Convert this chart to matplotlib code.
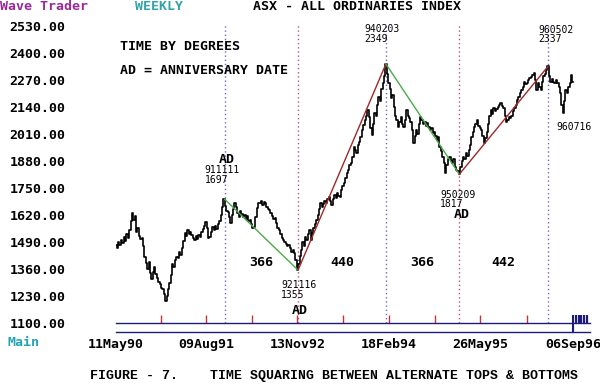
import pandas as pd
import matplotlib
matplotlib.use('Agg')
import matplotlib.pyplot as plt
import matplotlib.dates as mdates
import matplotlib.transforms as mtransforms

# weekly closes of the ASX All Ordinaries, starting 11 May 1990
start = '1990-05-11'
closes = [
    1478, 1460, 1492, 1475, 1502, 1488, 1515, 1497, 1530, 1512,
    1548, 1590, 1631, 1598, 1615, 1540, 1560, 1520, 1505, 1512,
    1470, 1420, 1390, 1360, 1395, 1340, 1310, 1345, 1372, 1335,
    1318, 1300, 1290, 1270, 1262, 1240, 1205, 1232, 1265, 1292,
    1330, 1385, 1370, 1405, 1420, 1412, 1440, 1430, 1462, 1495,
    1535, 1520, 1548, 1530, 1540, 1525, 1510, 1498, 1518, 1505,
    1525, 1515, 1540, 1555, 1570, 1585, 1560, 1512, 1516, 1540,
    1565, 1548, 1570, 1552, 1575, 1590, 1620, 1660, 1697, 1665,
    1640, 1636, 1610, 1582, 1620, 1650, 1678, 1660, 1630, 1612,
    1640, 1625, 1610, 1620, 1600, 1615, 1590, 1596, 1575, 1560,
    1564, 1610, 1655, 1680, 1678, 1690, 1670, 1685, 1678, 1660,
    1650, 1645, 1630, 1618, 1600, 1606, 1580, 1560, 1548, 1530,
    1512, 1500, 1490, 1480, 1470, 1475, 1461, 1440, 1450, 1437,
    1405, 1355, 1385, 1425, 1451, 1490, 1470, 1515, 1500, 1530,
    1548, 1500, 1535, 1560, 1575, 1596, 1620, 1650, 1678, 1660,
    1672, 1690, 1678, 1700, 1709, 1690, 1669, 1700, 1715, 1705,
    1726, 1712, 1709, 1740, 1760, 1775, 1800, 1823, 1840, 1860,
    1871, 1900, 1950, 1935, 1919, 1960, 1975, 1998, 2030, 2055,
    2079, 2100, 2127, 2095, 2040, 2006, 2060, 2112, 2100, 2150,
    2191, 2170, 2230, 2257, 2290, 2349, 2300, 2257, 2230, 2185,
    2200, 2143, 2100, 2080, 2046, 2070, 2095, 2060, 2046, 2080,
    2127, 2100, 2090, 2071, 2030, 1968, 2000, 2030, 2010, 2060,
    2095, 2080, 2060, 2071, 2050, 2064, 2045, 2030, 2040, 2015,
    2022, 2000, 1982, 1995, 1950, 1930, 1900, 1871, 1823, 1860,
    1890, 1902, 1880, 1871, 1890, 1853, 1840, 1835, 1817, 1850,
    1880, 1902, 1890, 1919, 1905, 1934, 1960, 1998, 2020, 2046,
    2060, 2079, 2050, 2040, 2030, 2000, 1968, 1990, 2022, 2060,
    2100, 2127, 2110, 2137, 2120, 2130, 2143, 2150, 2161, 2145,
    2137, 2100, 2071, 2080, 2095, 2090, 2100, 2120, 2137, 2150,
    2175, 2190, 2210, 2224, 2240, 2264, 2250, 2257, 2270, 2280,
    2288, 2295, 2306, 2270, 2224, 2257, 2240, 2224, 2260, 2290,
    2300, 2320, 2337, 2290, 2264, 2275, 2264, 2258, 2270, 2257,
    2240, 2209, 2150, 2112, 2170, 2224, 2210, 2240, 2257, 2296,
    2264,
]

pivot_dates = ['1991-11-11', '1992-11-16', '1994-02-03', '1995-02-09', '1996-05-02']
pivot_values = [1697, 1355, 2349, 1817, 2337]
pivot_top = [True, False, True, False, True]
pivot_ad = [True, True, False, True, False]
span_labels = ['366', '440', '366', '442']
last_low_date = '1996-07-16'
last_low_value = 2112

date_ticks = ['1990-05-11', '1991-08-09', '1992-11-13', '1994-02-18', '1995-05-26', '1996-09-06']
y_ticks = [1100, 1230, 1360, 1490, 1620, 1750, 1880, 2010, 2140, 2270, 2400, 2530]

MONO = 'DejaVu Sans Mono'
NAVY = '#1c1c7c'
W, H = 600, 384

dates = pd.date_range(start, periods=len(closes), freq='7D')
piv = pd.to_datetime(pivot_dates)
ticks = pd.to_datetime(date_ticks)

fig = plt.figure(figsize=(W / 100, H / 100), dpi=100)
ax = fig.add_axes([116 / W, 1 - 323 / H, (590 - 116) / W, (323 - 15) / H])
ax.set_xlim(pd.Timestamp(start), pd.Timestamp(start) + pd.Timedelta(weeks=342.2))
ax.set_ylim(1100, 2585)

# dotted time lines through the pivots
for i, d in enumerate(piv):
    col = '#6a6ac8' if i % 2 == 0 else '#c0508a'
    ax.plot([d, d], [1100, 2540], color=col, lw=1, ls=(0, (1, 2)))

# price, drawn as weekly steps so it reads like a bar chart
ax.plot(dates, closes, color='black', lw=1.2, drawstyle='steps-mid')

# swing lines between alternate tops and bottoms
for i in range(len(piv) - 1):
    col = '#4caa4c' if pivot_top[i] else '#a02828'
    ax.plot([piv[i], piv[i + 1]], [pivot_values[i], pivot_values[i + 1]], color=col, lw=1)

# pivot labels
offsets = [(-20, 24), (-17, -20), (-22, 30), (-19, -25), (-10, 32)]
for d, v, top, ad, off in zip(piv, pivot_values, pivot_top, pivot_ad, offsets):
    ax.annotate(f"{d:%y%m%d}\n{v}", xy=(d, v), xytext=off, textcoords='offset pixels',
                ha='left', va='center', family=MONO, fontsize=7, linespacing=0.92)
    if ad:
        ax.annotate('AD', xy=(d, v), xytext=(2, 40 if top else -40), textcoords='offset pixels',
                    ha='center', va='center', family=MONO, fontsize=9.5, fontweight='bold')
ax.annotate(pd.Timestamp(last_low_date).strftime('%y%m%d'), xy=(pd.Timestamp(last_low_date), last_low_value),
            xytext=(-6, -14), textcoords='offset pixels', ha='left', va='center', family=MONO, fontsize=7)

# time spans between pivots
trans = mtransforms.blended_transform_factory(ax.transData, ax.transAxes)
for i, lab in enumerate(span_labels):
    mid = piv[i] + (piv[i + 1] - piv[i]) / 2
    ax.text(mid, (323 - 262) / 308, lab, transform=trans, ha='center', va='center',
            family=MONO, fontsize=9.5, fontweight='bold')

# bottom scale: two navy rules, red half-period ticks, cursor bars
ax.plot([0, 1], [-9 / 308, -9 / 308], transform=ax.transAxes, color=NAVY, lw=1, clip_on=False)
marks = list(ticks[1:-1])
for a, b in zip(ticks[:-1], ticks[1:]):
    marks.append(a + (b - a) / 2)
ax.vlines(marks, 0, 8 / 308, transform=trans, color='#c83232', lw=1)
last = dates[-1]
ax.vlines([last], -9 / 308, 8 / 308, transform=trans, color=NAVY, lw=1.5, clip_on=False)
ax.vlines([last + pd.Timedelta(weeks=k) for k in (2, 4, 6, 8, 10)], 0, 8 / 308,
          transform=trans, color=NAVY, lw=1.6)

for s in ['top', 'right', 'left']:
    ax.spines[s].set_visible(False)
ax.spines['bottom'].set_color(NAVY)
ax.spines['bottom'].set_linewidth(1)

ax.set_xticks(ticks)
ax.xaxis.set_major_formatter(mdates.DateFormatter('%d%b%y'))
ax.set_yticks(y_ticks)
ax.set_yticklabels([f"{v:.2f}" for v in y_ticks])
ax.tick_params(axis='x', length=0, pad=11)
ax.tick_params(axis='y', length=0, pad=36.5)
for lab in ax.get_xticklabels() + ax.get_yticklabels():
    lab.set_family(MONO)
    lab.set_fontweight('bold')
    lab.set_fontsize(9.5)


def ftext(x, y, s, **kw):
    kw.setdefault('family', MONO)
    kw.setdefault('fontsize', 9.5)
    kw.setdefault('fontweight', 'bold')
    fig.text(x / W, 1 - y / H, s, va='center', **kw)


ftext(0, 7, 'Wave Trader', color='#9a2a9a')
ftext(135, 7, 'WEEKLY', color='#30a4a8')
ftext(253, 7, 'ASX - ALL ORDINARIES INDEX')
ftext(120, 46, 'TIME BY DEGREES')
ftext(120, 71, 'AD = ANNIVERSARY DATE')
ftext(8, 343, 'Main', color='#22a4b4')
ftext(90, 376, 'FIGURE - 7.    TIME SQUARING BETWEEN ALTERNATE TOPS & BOTTOMS',
      family='Liberation Mono')

fig.savefig('out.png', dpi=100)
